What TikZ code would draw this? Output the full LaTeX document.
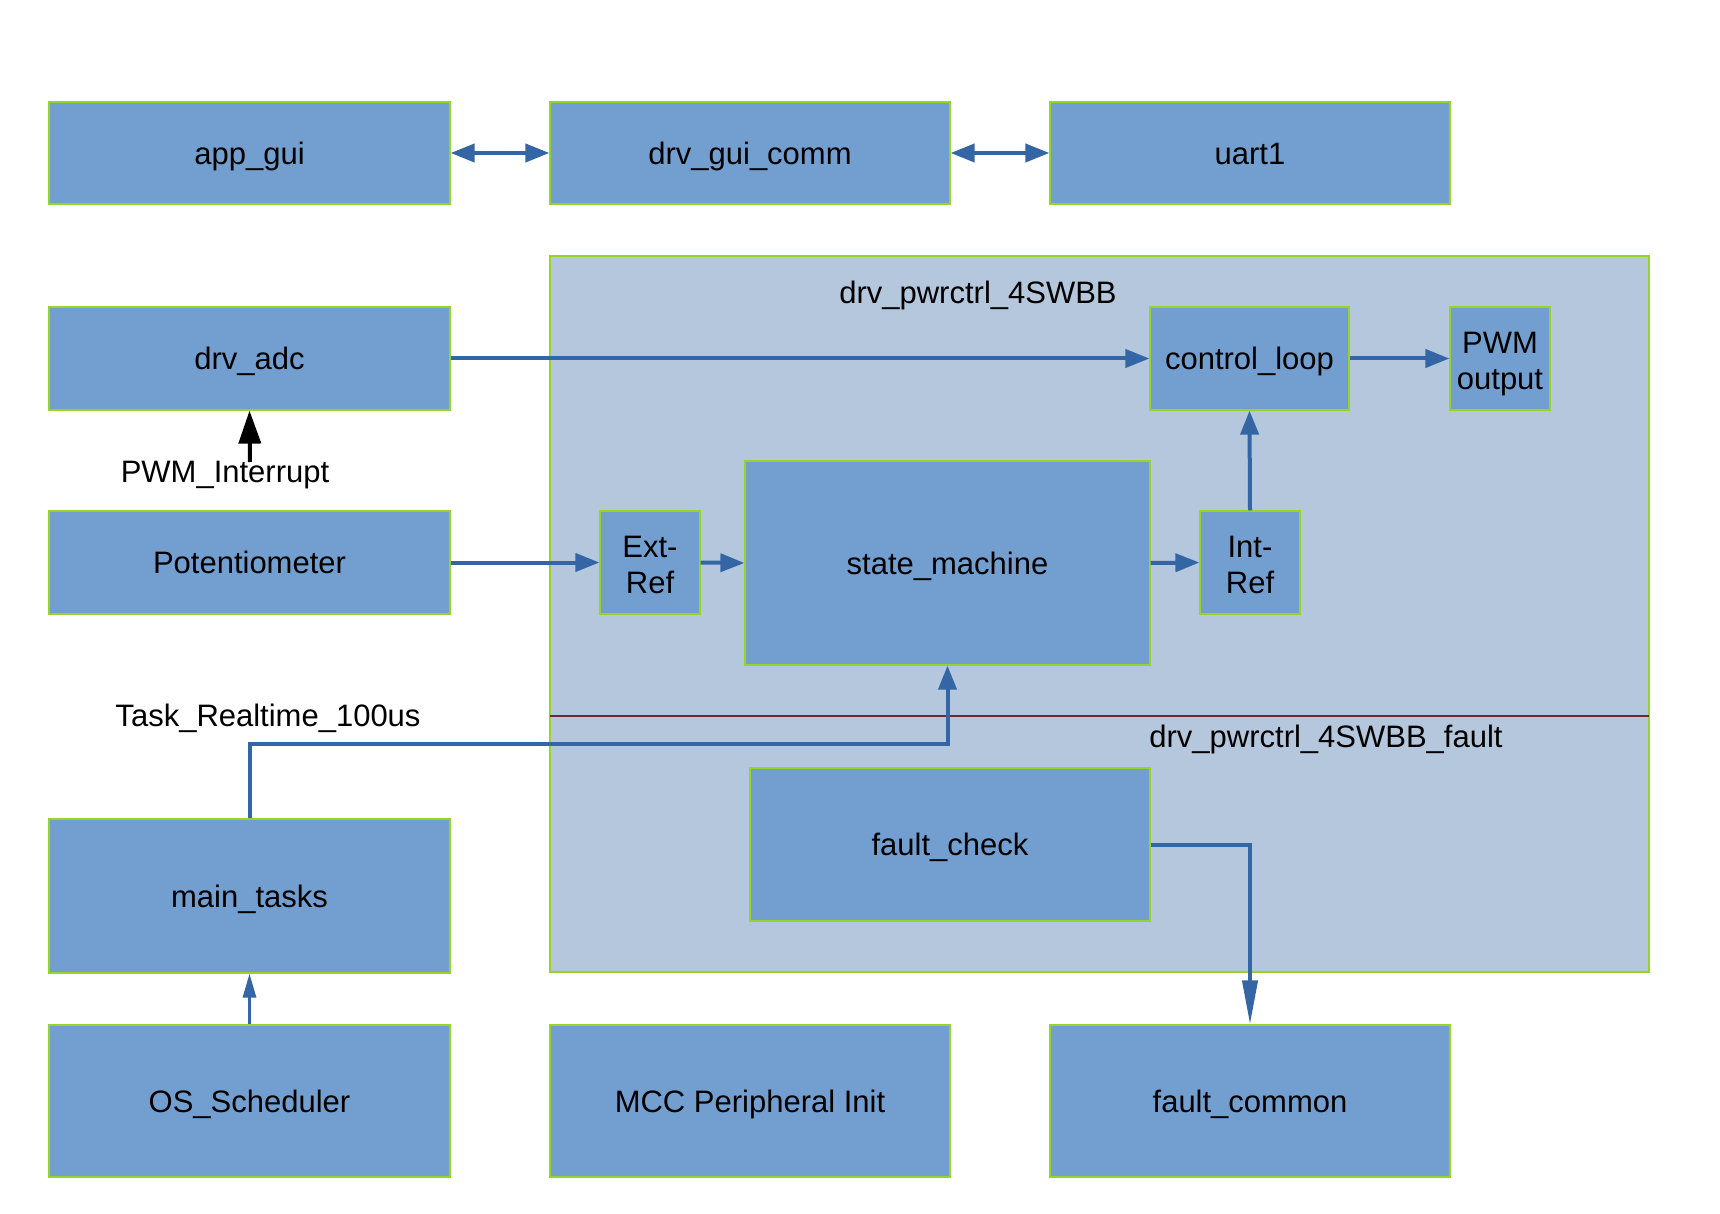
\documentclass[tikz,border=0pt]{standalone}
\usepackage{fontspec}
\setmainfont{Liberation Sans}
\usetikzlibrary{arrows.meta}
\definecolor{boxblue}{RGB}{114,159,207}
\definecolor{groupblue}{RGB}{180,199,220}
\definecolor{linkblue}{RGB}{52,101,164}
\definecolor{edgegreen}{RGB}{150,212,40}
\definecolor{splitline}{RGB}{110,40,50}
\tikzset{
  block/.style={rectangle, fill=boxblue, draw=edgegreen, line width=0.6pt,
    inner sep=0pt, align=center, text height=13.5pt, text depth=2.3pt,
    font=\fontsize{15.5}{18}\selectfont},
  twoline/.style={text height=31pt, text depth=0pt},
  group/.style={fill=groupblue, draw=edgegreen, line width=0.6pt},
  label/.style={inner sep=0pt, font=\fontsize{15.5}{18}\selectfont},
  flow/.style={draw=linkblue, line width=2pt,
    -{Triangle[length=12pt,width=9pt]}},
  both/.style={draw=linkblue, line width=2pt,
    {Triangle[length=12pt,width=9pt]}-{Triangle[length=12pt,width=9pt]}},
  thinflow/.style={draw=linkblue, line width=1.5pt,
    -{Triangle[length=12pt,width=6.5pt]}},
  longflow/.style={draw=linkblue, line width=2pt,
    -{Triangle[length=22pt,width=7.5pt]}},
  irq/.style={draw=black, line width=2pt,
    -{Triangle[length=16.5pt,width=11pt]}},
}
\begin{document}
\begin{tikzpicture}[x=0.5pt,y=-0.5pt]
\useasboundingbox (0,0) rectangle (1720,1214);

% power control groups
\path[group] (550,256) rectangle (1649,716);
\path[group] (550,716) rectangle (1649,972);
\draw[splitline, line width=0.6pt] (550,716) -- (1649,716);
\node[label] (grpmain) at (978,295) {drv\_pwrctrl\_4SWBB};
\node[label] (grpfault) at (1326,739) {drv\_pwrctrl\_4SWBB\_fault};

% top row
\node[block, minimum width=200.5pt, minimum height=51pt] (app)  at (249.5,153) {app\_gui};
\node[block, minimum width=200pt, minimum height=51pt]   (gui)  at (750,153)   {drv\_gui\_comm};
\node[block, minimum width=200pt, minimum height=51pt]   (uart) at (1250,153)  {uart1};

% left column
\node[block, minimum width=200.5pt, minimum height=51.5pt] (adc)  at (249.5,358.5) {drv\_adc};
\node[block, minimum width=200.5pt, minimum height=51.5pt] (pot)  at (249.5,562.5) {Potentiometer};
\node[block, minimum width=200.5pt, minimum height=77pt]   (main) at (249.5,896)   {main\_tasks};
\node[block, minimum width=200.5pt, minimum height=76pt]   (os)   at (249.5,1101)  {OS\_Scheduler};

% bottom row
\node[block, minimum width=200pt, minimum height=76pt] (mcc)    at (750,1101)  {MCC Peripheral Init};
\node[block, minimum width=200pt, minimum height=76pt] (fcommon) at (1250,1101) {fault\_common};

% inside drv_pwrctrl_4SWBB
\node[block, minimum width=99.5pt, minimum height=51.5pt] (ctrl)   at (1249.5,358.5) {control\_loop};
\node[block, twoline, minimum width=50pt, minimum height=51.5pt] (pwm)    at (1500,358.5) {PWM\\output};
\node[block, twoline, minimum width=50pt, minimum height=51.5pt] (extref) at (650,562.5)  {Ext-\\Ref};
\node[block, minimum width=202.5pt, minimum height=102pt] (state)  at (947.5,563)    {state\_machine};
\node[block, twoline, minimum width=50pt, minimum height=51.5pt] (intref) at (1250,562.5) {Int-\\Ref};

% inside drv_pwrctrl_4SWBB_fault
\node[block, minimum width=200pt, minimum height=76.5pt] (fcheck) at (950,844.5) {fault\_check};

% free labels
\node[label] (irqlabel)  at (225,475) {PWM\_Interrupt};
\node[label] (tasklabel) at (268,718) {Task\_Realtime\_100us};
\coordinate (irqstart) at (250,462);
\coordinate (taskbend) at (600,744);

% connectors
\draw[both] (app.east) -- (gui.west);
\draw[both] (gui.east) -- (uart.west);
\draw[flow] (adc.east) -- (ctrl.west);
\draw[flow] (ctrl.east) -- (pwm.west);
\draw[flow] (pot.east) -- (extref.west);
\draw[flow] (extref.east) -- (state.west);
\draw[flow] (state.east) -- (intref.west);
\draw[flow] (intref.north) -- (ctrl.south);
\draw[flow] (main.north) |- (taskbend) -| (state.south);
\draw[longflow] (fcheck.east) -| (fcommon.north);
\draw[thinflow] (os.north) -- (main.south);
\draw[irq] (irqstart) -- (adc.south);
\end{tikzpicture}
\end{document}
